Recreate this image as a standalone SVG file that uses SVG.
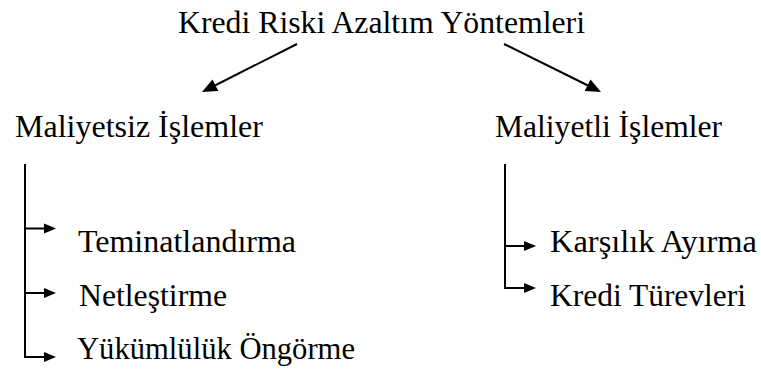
<svg xmlns="http://www.w3.org/2000/svg" width="761" height="370" viewBox="0 0 761 370">
  <defs>
    <!-- arrowheads: tip at the origin, pointing along +x -->
    <path id="tip" d="M0,0 L-12,-5 L-12,5 Z" fill="#000"/>
    <path id="tipBig" d="M0,0 L-15,-6.5 L-15,6.5 Z" fill="#000"/>
  </defs>

  <rect width="761" height="370" fill="#fff"/>

  <g font-family="'Liberation Serif', 'DejaVu Serif', 'Noto Serif', serif" font-size="31.5" fill="#000" lengthAdjust="spacingAndGlyphs">
    <g id="root"><text x="178" y="33" textLength="407" lengthAdjust="spacingAndGlyphs">Kredi Riski Azaltım Yöntemleri</text></g>
    <g id="costless"><text x="15" y="137" textLength="248" lengthAdjust="spacingAndGlyphs">Maliyetsiz İşlemler</text></g>
    <g id="costly"><text x="495" y="137" textLength="227" lengthAdjust="spacingAndGlyphs">Maliyetli İşlemler</text></g>
    <g id="collateral"><text x="78" y="252" textLength="218" lengthAdjust="spacingAndGlyphs">Teminatlandırma</text></g>
    <g id="netting"><text x="79" y="306" textLength="148" lengthAdjust="spacingAndGlyphs">Netleştirme</text></g>
    <g id="commitment"><text x="77" y="359" textLength="278" lengthAdjust="spacingAndGlyphs">Yükümlülük Öngörme</text></g>
    <g id="provision"><text x="550" y="252" textLength="207" lengthAdjust="spacingAndGlyphs">Karşılık Ayırma</text></g>
    <g id="derivatives"><text x="550" y="306" textLength="196" lengthAdjust="spacingAndGlyphs">Kredi Türevleri</text></g>
  </g>

  <g id="connectors" stroke="#000" stroke-width="2" fill="none">
    <line x1="297" y1="44" x2="210" y2="88"/>
    <line x1="504" y1="44" x2="593" y2="88"/>
    <path d="M25,164 V357 H46"/>
    <line x1="25" y1="228.5" x2="46" y2="228.5"/>
    <line x1="25" y1="293" x2="46" y2="293"/>
    <path d="M505,164 V288 H526"/>
    <line x1="505" y1="246" x2="526" y2="246"/>
    <g stroke="none">
      <use href="#tipBig" transform="translate(202,92) rotate(153.2)"/>
      <use href="#tipBig" transform="translate(601,92) rotate(26.8)"/>
      <use href="#tip" transform="translate(56,357)"/>
      <use href="#tip" transform="translate(56,228.5)"/>
      <use href="#tip" transform="translate(56,293)"/>
      <use href="#tip" transform="translate(536,288)"/>
      <use href="#tip" transform="translate(536,246)"/>
    </g>
  </g>
</svg>
